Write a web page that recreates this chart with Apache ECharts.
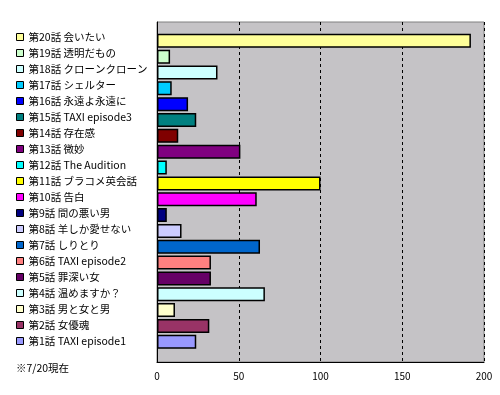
<!DOCTYPE html>
<html>
<head>
<meta charset="utf-8">
<script src="https://cdn.jsdelivr.net/npm/echarts@6/dist/echarts.min.js"></script>
<style>html,body{margin:0;padding:0;background:#fff}#c{width:500px;height:395px}</style>
</head>
<body>
<div id="c"></div>
<script>
// Episodes, bottom (第1話) to top (第20話)
var categories = ['第1話 TAXI episode1','第2話 女優魂','第3話 男と女と男','第4話 温めますか？','第5話 罪深い女','第6話 TAXI episode2','第7話 しりとり','第8話 羊しか愛せない','第9話 間の悪い男','第10話 告白','第11話 ブラコメ英会話','第12話 The Audition','第13話 微妙','第14話 存在感','第15話 TAXI episode3','第16話 永遠よ永遠に','第17話 シェルター','第18話 クローンクローン','第19話 透明だもの','第20話 会いたい'];
var values = [24,32,11,66,33,33,63,15,6,61,100,6,51,13,24,19,9,37,8,192];
var colors = ['#9999ff','#993366','#ffffcc','#ccffff','#660066','#ff8080','#0066cc','#ccccff','#000080','#ff00ff','#ffff00','#00ffff','#800080','#800000','#008080','#0000ff','#00ccff','#ccffff','#ccffcc','#ffff99'];
var xTicks = [0,50,100,150,200];
var note = '※7/20現在';

var font = '"Noto Sans CJK JP", sans-serif';
var series = [];
for (var i = categories.length - 1; i >= 0; i--) {
  var d = categories.map(function (c, j) { return j === i ? values[i] : '-'; });
  series.push({
    name: categories[i], type: 'bar', xAxisIndex: 1, yAxisIndex: 1,
    data: d, barWidth: 14, barGap: '-100%',
    itemStyle: { color: colors[i], borderColor: '#000', borderWidth: 1.5 },
    silent: true, animation: false
  });
}
var chart = echarts.init(document.getElementById('c'), null, { renderer: 'canvas' });
chart.setOption({
  animation: false,
  title: { text: note, left: 16, top: 363, padding: 0, textStyle: { fontFamily: font, fontSize: 10.5, fontWeight: 'normal', color: '#000' } },
  legend: {
    orient: 'vertical', left: 16, top: 31, padding: 0, itemWidth: 7, itemHeight: 7, itemGap: 4,
    icon: 'rect', selectedMode: false,
    data: series.map(function (s) { return s.name; }),
    itemStyle: { borderColor: '#000', borderWidth: 1 },
    textStyle: { fontFamily: font, fontSize: 10.5, lineHeight: 12, color: '#000' }
  },
  grid: [
    { left: 157, right: 16, top: 22, bottom: 33, show: true, backgroundColor: '#c5c3c6', borderColor: '#808080', borderWidth: 1 },
    { left: 157, right: 16, top: 32.9, bottom: 45.3 }
  ],
  xAxis: [
    { type: 'value', gridIndex: 0, min: xTicks[0], max: xTicks[xTicks.length - 1], interval: 50,
      axisLine: { show: true, lineStyle: { color: '#000', width: 1 } },
      axisTick: { show: false },
      axisLabel: { margin: 9, fontFamily: font, fontSize: 10, color: '#000' },
      splitLine: { show: true, lineStyle: { color: '#000', type: [3, 3], width: 1 } } },
    { type: 'value', gridIndex: 1, min: 0, max: 200, show: false, splitLine: { show: false } }
  ],
  yAxis: [
    { type: 'value', gridIndex: 0, min: 0, max: 1, axisLine: { show: true, lineStyle: { color: '#000' } }, axisTick: { show: false }, axisLabel: { show: false }, splitLine: { show: false } },
    { type: 'category', gridIndex: 1, data: categories, show: false }
  ],
  series: series
});
</script>
</body>
</html>
